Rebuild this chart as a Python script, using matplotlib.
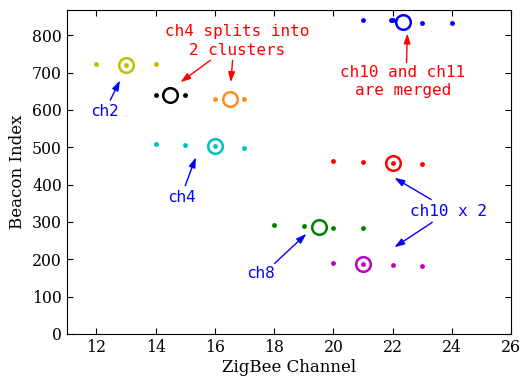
import numpy as np
from matplotlib import pyplot as plt

# beacon points per cluster (channel, beacon index)
colors = [(0.75, 0.75, 0), 'k', (1.0, 0.55, 0.1), (0, 0.75, 0.75),
          'r', (0, 0.5, 0), (0.75, 0, 0.75), 'b']

pts_x = [[12, 13, 14],
         [14, 15],
         [16, 17],
         [14, 15, 16, 17],
         [20, 21, 22, 23],
         [18, 19, 20, 21],
         [20, 21, 22, 23],
         [21, 21.95, 22, 23, 24]]
pts_y = [[724, 720, 722],
         [640, 640],
         [630, 630],
         [509, 507, 502, 499],
         [464, 461, 457, 456],
         [293, 289, 285, 283],
         [190, 187, 184, 183],
         [840, 841, 840, 834, 834]]

# cluster centres
cen_x = [13, 14.5, 16.5, 16, 22, 19.5, 21, 22.36]
cen_y = [720, 640, 630, 504, 458, 287, 187, 836]

fig = plt.figure(figsize=(5.21, 3.79), dpi=100)
ax = fig.add_axes([0.128, 0.119, 0.853, 0.855])

for c, xs, ys, cx, cy in zip(colors, pts_x, pts_y, cen_x, cen_y):
    ax.plot(xs, ys, 'o', color=c, markersize=3.5, markeredgewidth=0)
    ax.plot(cx, cy, 'o', markerfacecolor='none', markeredgecolor=c,
            markersize=10.5, markeredgewidth=1.8)

red_arrow = dict(arrowstyle='-|>,head_length=0.6,head_width=0.2', color='r',
                 lw=1, mutation_scale=10, shrinkA=0, shrinkB=0)
blue_arrow = dict(arrowstyle='-|>,head_length=0.6,head_width=0.2', color='b',
                  lw=1, mutation_scale=10, shrinkA=0, shrinkB=0)

ax.text(16.75, 784, 'ch4 splits into\n2 clusters', color='r', family='DejaVu Sans Mono',
        fontsize=11.5, ha='center', va='center', linespacing=1.3)
ax.annotate('', xy=(14.84, 674), xytext=(15.85, 733), arrowprops=red_arrow)
ax.annotate('', xy=(16.54, 674), xytext=(16.6, 733), arrowprops=red_arrow)

ax.text(22.35, 676, 'ch10 and ch11\nare merged', color='r', family='DejaVu Sans Mono',
        fontsize=11.5, ha='center', va='center', linespacing=1.3)
ax.annotate('', xy=(22.5, 805), xytext=(22.47, 727), arrowprops=red_arrow)

ax.text(12.3, 596, 'ch2', color='b', fontsize=11, ha='center', va='center')
ax.annotate('', xy=(12.8, 679), xytext=(12.47, 626), arrowprops=blue_arrow)

ax.text(14.88, 365, 'ch4', color='b', fontsize=11, ha='center', va='center')
ax.annotate('', xy=(15.36, 473), xytext=(15.0, 397), arrowprops=blue_arrow)

ax.text(17.57, 162, 'ch8', color='b', fontsize=11, ha='center', va='center')
ax.annotate('', xy=(19.09, 268), xytext=(18.02, 189), arrowprops=blue_arrow)

ax.text(23.9, 328, 'ch10 x 2', color='b', family='DejaVu Sans Mono',
        fontsize=11.5, ha='center', va='center')
ax.annotate('', xy=(22.06, 418), xytext=(23.3, 360), arrowprops=blue_arrow)
ax.annotate('', xy=(22.06, 232), xytext=(23.34, 299), arrowprops=blue_arrow)

ax.set_xlim(11, 26)
ax.set_ylim(0, 868)
ax.set_xticks(np.arange(12, 27, 2))
ax.set_yticks(np.arange(0, 801, 100))
ax.tick_params(direction='in', top=True, right=True, length=4, labelsize=11.3)
for lab in ax.get_xticklabels() + ax.get_yticklabels():
    lab.set_family('DejaVu Serif')
ax.set_xlabel('ZigBee Channel', family='DejaVu Serif', fontsize=12, labelpad=2)
ax.set_ylabel('Beacon Index', family='DejaVu Serif', fontsize=12, labelpad=4)

fig.savefig('out.png', dpi=100)
